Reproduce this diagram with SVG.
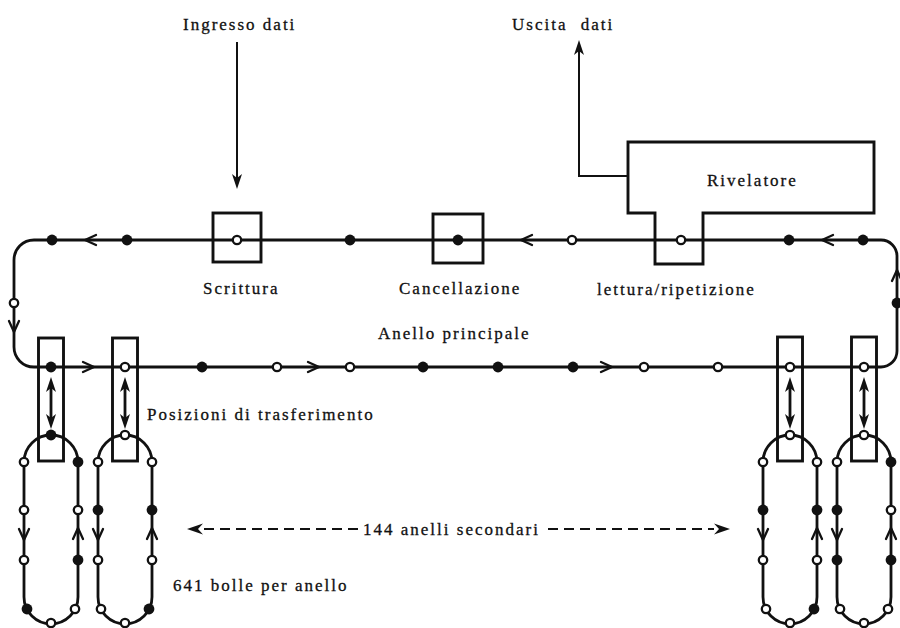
<svg xmlns="http://www.w3.org/2000/svg" width="900" height="628" viewBox="0 0 900 628">
  <style>
    .ln { fill: none; stroke: #111; stroke-width: 2.8; stroke-linejoin: round; }
    .thin { fill: none; stroke: #111; stroke-width: 2; }
    .box { fill: none; stroke: #111; stroke-width: 2.9; }
    .f { fill: #111; }
    .o { fill: #fff; stroke: #111; stroke-width: 2.3; }
    .chev { fill: none; stroke: #111; stroke-width: 2.3; stroke-linecap: round; stroke-linejoin: round; }
    .ah { fill: #111; }
    .t { font-family: "Liberation Serif", "Times New Roman", serif; font-size: 17px; letter-spacing: 2px; fill: #111; stroke: #111; stroke-width: 0.3; }
    .dash { fill: none; stroke: #111; stroke-width: 2; stroke-dasharray: 10 6; }
  </style>
  <defs>
    <circle id="fb" r="5.4" class="f"/>
    <circle id="ob" r="4.2" class="o"/>
    <path id="chL" d="M11,-5 L0,0 L11,5" class="chev"/>
    <path id="chR" d="M-11,-5 L0,0 L-11,5" class="chev"/>
    <path id="chD" d="M-5,-11 L0,0 L5,-11" class="chev"/>
    <path id="chU" d="M-5,11 L0,0 L5,11" class="chev"/>
    <path id="headD" d="M0,0 L-5,-15 L0,-11 L5,-15 Z" class="ah"/>
    <path id="headU" d="M0,0 L-5,15 L0,11 L5,15 Z" class="ah"/>
  </defs>

  <!-- main loop (Anello principale) -->
  <g id="main-loop">
    <path class="ln" d="M34,240 H881 A16,16 0 0 1 897,256 V351 A16,16 0 0 1 881,367 H34 A20,20 0 0 1 14,347 V260 A20,20 0 0 1 34,240 Z"/>
    <!-- direction marks -->
    <use href="#chL" x="85" y="240"/>
    <use href="#chL" x="521" y="240"/>
    <use href="#chL" x="822" y="240"/>
    <use href="#chD" x="14" y="332"/>
    <use href="#chU" x="897" y="270"/>
    <use href="#chR" x="94" y="367"/>
    <use href="#chR" x="319" y="367"/>
    <use href="#chR" x="612" y="367"/>
    <!-- bubbles, top track -->
    <use href="#fb" x="52" y="240"/>
    <use href="#fb" x="127" y="240"/>
    <use href="#fb" x="350" y="240"/>
    <use href="#ob" x="572" y="240"/>
    <use href="#fb" x="789" y="240"/>
    <use href="#fb" x="863" y="240"/>
    <!-- bubbles, sides -->
    <use href="#ob" x="14" y="303"/>
    <use href="#fb" x="897" y="303"/>
    <!-- bubbles, bottom track -->
    <use href="#fb" x="202" y="367"/>
    <use href="#ob" x="277" y="367"/>
    <use href="#ob" x="350" y="367"/>
    <use href="#fb" x="423" y="367"/>
    <use href="#fb" x="498" y="367"/>
    <use href="#fb" x="573" y="367"/>
    <use href="#ob" x="644" y="367"/>
    <use href="#ob" x="718" y="367"/>
    <text class="t" x="378" y="339">Anello principale</text>
  </g>

  <!-- write station -->
  <g id="scrittura">
    <rect class="box" x="213" y="213" width="48" height="49"/>
    <use href="#ob" x="237" y="240"/>
    <text class="t" x="203" y="294">Scrittura</text>
  </g>

  <!-- erase station -->
  <g id="cancellazione">
    <rect class="box" x="433" y="214" width="50" height="49"/>
    <use href="#fb" x="458" y="240"/>
    <text class="t" x="399" y="294">Cancellazione</text>
  </g>

  <!-- detector with read/replicate gate -->
  <g id="rivelatore">
    <path class="box" d="M628,142 H874 V213 H703 V264 H655 V213 H628 Z"/>
    <use href="#ob" x="681" y="240"/>
    <text class="t" x="707" y="186">Rivelatore</text>
    <text class="t" x="597" y="295">lettura/ripetizione</text>
  </g>

  <!-- transfer positions -->
  <g id="trasferimento">
    <rect class="box" x="38.5" y="338" width="25" height="123"/>
    <rect class="box" x="112.5" y="338" width="25" height="123"/>
    <rect class="box" x="777.5" y="337" width="25" height="124"/>
    <rect class="box" x="851.5" y="337" width="25" height="124"/>
    <use href="#fb" x="51" y="367"/>
    <use href="#ob" x="125" y="367"/>
    <use href="#ob" x="790" y="367"/>
    <use href="#ob" x="864" y="367"/>
    <text class="t" x="147" y="420">Posizioni di trasferimento</text>
  </g>

  <!-- minor loop 1 -->
  <g id="anello-1">
    <path class="ln" d="M24,462 A27,27 0 0 1 78,462 V597 A27,27 0 0 1 24,597 Z"/>
    <use href="#chD" x="24" y="540"/>
    <use href="#chU" x="78" y="528"/>
    <use href="#fb" x="51" y="435"/>
    <use href="#ob" x="24" y="462"/>
    <use href="#fb" x="78" y="462"/>
    <use href="#ob" x="24" y="510"/>
    <use href="#ob" x="24" y="560"/>
    <use href="#ob" x="78" y="510"/>
    <use href="#fb" x="78" y="560"/>
    <use href="#fb" x="27" y="609"/>
    <use href="#ob" x="51" y="623"/>
    <use href="#ob" x="75" y="609"/>
  </g>

  <!-- minor loop 2 -->
  <g id="anello-2">
    <path class="ln" d="M98,462 A27,27 0 0 1 152,462 V597 A27,27 0 0 1 98,597 Z"/>
    <use href="#chD" x="98" y="540"/>
    <use href="#chU" x="152" y="528"/>
    <use href="#ob" x="125" y="435"/>
    <use href="#ob" x="98" y="462"/>
    <use href="#ob" x="152" y="462"/>
    <use href="#fb" x="98" y="510"/>
    <use href="#ob" x="98" y="560"/>
    <use href="#fb" x="152" y="510"/>
    <use href="#ob" x="152" y="560"/>
    <use href="#ob" x="101" y="609"/>
    <use href="#ob" x="125" y="623"/>
    <use href="#fb" x="149" y="609"/>
  </g>

  <!-- minor loop 143 -->
  <g id="anello-143">
    <path class="ln" d="M763,462 A27,27 0 0 1 817,462 V597 A27,27 0 0 1 763,597 Z"/>
    <use href="#chD" x="763" y="540"/>
    <use href="#chU" x="817" y="528"/>
    <use href="#ob" x="790" y="435"/>
    <use href="#ob" x="763" y="462"/>
    <use href="#ob" x="817" y="462"/>
    <use href="#fb" x="763" y="510"/>
    <use href="#ob" x="763" y="560"/>
    <use href="#fb" x="817" y="510"/>
    <use href="#ob" x="817" y="560"/>
    <use href="#ob" x="766" y="609"/>
    <use href="#ob" x="790" y="623"/>
    <use href="#fb" x="814" y="609"/>
  </g>

  <!-- minor loop 144 -->
  <g id="anello-144">
    <path class="ln" d="M837,462 A27,27 0 0 1 891,462 V597 A27,27 0 0 1 837,597 Z"/>
    <use href="#chD" x="837" y="540"/>
    <use href="#chU" x="891" y="528"/>
    <use href="#ob" x="864" y="435"/>
    <use href="#ob" x="837" y="462"/>
    <use href="#fb" x="891" y="462"/>
    <use href="#fb" x="837" y="510"/>
    <use href="#fb" x="837" y="560"/>
    <use href="#ob" x="891" y="510"/>
    <use href="#fb" x="891" y="560"/>
    <use href="#ob" x="840" y="609"/>
    <use href="#ob" x="864" y="623"/>
    <use href="#ob" x="888" y="609"/>
  </g>

  <!-- connectors -->
  <g id="connectors">
    <!-- data in -->
    <line class="thin" x1="237" y1="42" x2="237" y2="180"/>
    <use href="#headD" x="237" y="189"/>
    <!-- data out from detector -->
    <path class="thin" d="M628,176 H579 V50"/>
    <use href="#headU" x="579" y="40"/>
    <!-- transfer arrows -->
    <g id="xfer-arrows">
      <line class="ln" x1="51" y1="386" x2="51" y2="420"/>
      <use href="#headU" x="51" y="377"/>
      <use href="#headD" x="51" y="429"/>
      <line class="ln" x1="125" y1="386" x2="125" y2="420"/>
      <use href="#headU" x="125" y="377"/>
      <use href="#headD" x="125" y="429"/>
      <line class="ln" x1="790" y1="386" x2="790" y2="420"/>
      <use href="#headU" x="790" y="377"/>
      <use href="#headD" x="790" y="429"/>
      <line class="ln" x1="864" y1="386" x2="864" y2="420"/>
      <use href="#headU" x="864" y="377"/>
      <use href="#headD" x="864" y="429"/>
    </g>
    <!-- span of the 144 minor loops -->
    <line class="dash" x1="204" y1="529" x2="358" y2="529"/>
    <path class="ah" d="M187,529 L203,523.5 L198,529 L203,534.5 Z"/>
    <line class="dash" x1="548" y1="529" x2="714" y2="529"/>
    <path class="ah" d="M730,529 L714,523.5 L719,529 L714,534.5 Z"/>
  </g>

  <!-- labels -->
  <g id="labels">
    <text class="t" x="183" y="30">Ingresso dati</text>
    <text class="t" x="512" y="30" word-spacing="7">Uscita dati</text>
    <text class="t" x="363" y="535">144 anelli secondari</text>
    <text class="t" x="173" y="591">641 bolle per anello</text>
  </g>
</svg>
